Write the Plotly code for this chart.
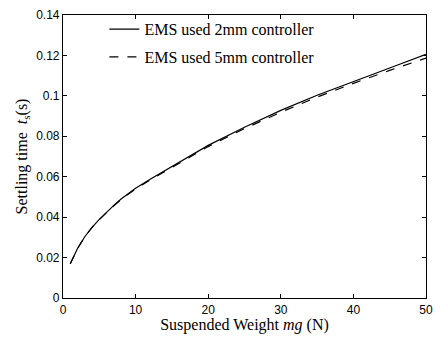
import plotly.graph_objects as go

weight = [1, 2, 3, 4, 5, 6, 7, 8, 10, 12, 15, 20, 25, 30, 35, 40, 45, 50]
ts_2mm = [0.0169, 0.0245, 0.0303, 0.0349, 0.0389, 0.0425, 0.0458, 0.049, 0.0543, 0.0588, 0.0652, 0.0755, 0.0845, 0.0928, 0.1003, 0.1072, 0.1138, 0.1205]
ts_5mm = [0.0169, 0.0245, 0.0303, 0.0349, 0.0388, 0.0423, 0.0456, 0.0487, 0.0540, 0.0584, 0.0647, 0.0749, 0.0838, 0.0919, 0.0994, 0.1062, 0.1126, 0.1187]
yticks = [0, 0.02, 0.04, 0.06, 0.08, 0.1, 0.12, 0.14]
ytext = ["0", "0.02", "0.04", "0.06", "0.08", "0.1", "0.12", "0.14"]
xticks = [0, 10, 20, 30, 40, 50]

fig = go.Figure()
fig.add_trace(go.Scatter(x=weight, y=ts_2mm, mode="lines", name="EMS used 2mm controller",
                         legendgroup="a", line=dict(color="black", width=1.2)))
fig.add_trace(go.Scatter(x=weight, y=ts_5mm, mode="lines", name="EMS used 5mm controller",
                         legendgroup="b", line=dict(color="black", width=1.2, dash="dash")))

axis_common = dict(showline=True, linecolor="black", linewidth=1.2, mirror="ticks",
                   ticks="inside", ticklen=4, tickcolor="black", showgrid=False, zeroline=False,
                   tickfont=dict(family="Liberation Sans, Arial", size=12, color="black"))
fig.update_xaxes(range=[0, 50], tickvals=xticks,
                 title=dict(text="Suspended Weight <i>mg</i> (N)", standoff=2,
                            font=dict(family="Liberation Serif, Times New Roman", size=16, color="black")),
                 **axis_common)
fig.update_yaxes(range=[0, 0.14], tickvals=yticks, ticktext=ytext,
                 title=dict(text="Settling time  <i>t</i><sub>s</sub>(s)", standoff=4,
                            font=dict(family="Liberation Serif, Times New Roman", size=16, color="black")),
                 **axis_common)
fig.update_layout(width=441, height=344, margin=dict(l=63, r=8, t=11, b=46),
                  plot_bgcolor="white", paper_bgcolor="white",
                  legend=dict(x=0.114, y=1.01, xanchor="left", yanchor="top",
                              bgcolor="rgba(0,0,0,0)", borderwidth=0,
                              font=dict(family="Liberation Serif, Times New Roman", size=16, color="black"),
                              traceorder="grouped", tracegroupgap=4),
                  showlegend=True)
fig.write_html("out.html")
